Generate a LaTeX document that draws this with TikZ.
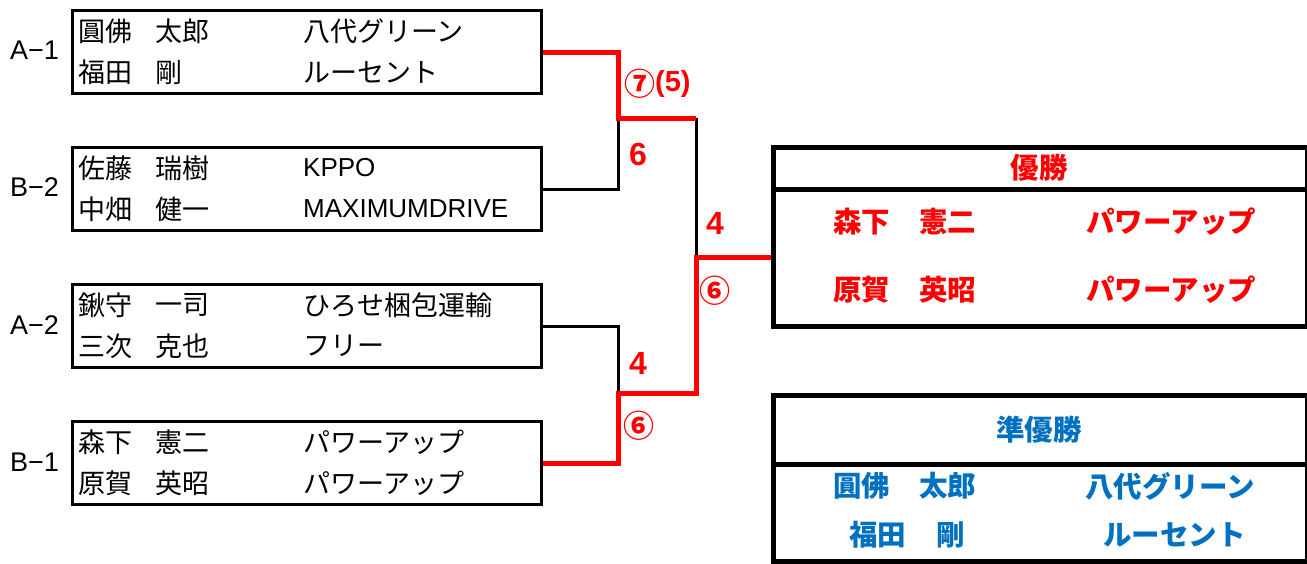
\documentclass[tikz,border=0pt]{standalone}
\usepackage{fontspec}
\setmainfont{Liberation Sans}
\newfontfamily\cjk{Noto Sans CJK JP}
\definecolor{winred}{RGB}{255,0,0}
\definecolor{runblue}{RGB}{0,112,192}
\begin{document}
\begin{tikzpicture}[x=1pt,y=-1pt,
  entry/.style={draw, line width=3pt, minimum width=469pt, minimum height=83pt, anchor=north west, inner sep=0pt},
  lt/.style={anchor=west, inner sep=0pt, font=\fontsize{27}{27}\selectfont\cjk},
  ll/.style={anchor=west, inner sep=0pt, font=\fontsize{26}{26}\selectfont},
  seed/.style={anchor=west, inner sep=0pt, font=\fontsize{27}{27}\selectfont},
  blk/.style={line width=3pt, black},
  rdl/.style={line width=5pt, winred},
  score/.style={anchor=west, inner sep=0pt, text=winred, font=\fontsize{32}{32}\selectfont\bfseries},
  cscore/.style={anchor=center, inner sep=0pt, text=winred, font=\fontsize{31}{31}\selectfont\cjk\bfseries},
  big/.style={draw, line width=5pt, minimum width=534pt, anchor=north west, inner sep=0pt},
  wt/.style={inner sep=0pt, text=winred, font=\fontsize{28.5}{28.5}\selectfont\cjk\bfseries},
  rt/.style={inner sep=0pt, text=runblue, font=\fontsize{28.5}{28.5}\selectfont\cjk\bfseries}]
\useasboundingbox (0,0) rectangle (1307,563);
% entry boxes
\node[entry] (a1) at (71,9) {};
\node[entry] (b2) at (71,146) {};
\node[entry] (a2) at (71,283) {};
\node[entry] (b1) at (71,420) {};
% seed labels
\node[seed] (la1) at (10,50) {A−1};
\node[seed] (lb2) at (10,187) {B−2};
\node[seed] (la2) at (10,325) {A−2};
\node[seed] (lb1) at (10,462) {B−1};
% A-1
\node[lt] (a1n1) at (78,31) {圓佛};
\node[lt] (a1g1) at (155,31) {太郎};
\node[lt] (a1t1) at (303,31) {八代グリーン};
\node[lt] (a1n2) at (78,72) {福田};
\node[lt] (a1g2) at (155,72) {剛};
\node[lt] (a1t2) at (303,72) {ルーセント};
% B-2
\node[lt] (b2n1) at (78,168) {佐藤};
\node[lt] (b2g1) at (155,168) {瑞樹};
\node[ll] (b2t1) at (303,168) {KPPO};
\node[lt] (b2n2) at (78,209) {中畑};
\node[lt] (b2g2) at (155,209) {健一};
\node[ll] (b2t2) at (303,209) {MAXIMUMDRIVE};
% A-2
\node[lt] (a2n1) at (78,305) {鍬守};
\node[lt] (a2g1) at (155,305) {一司};
\node[lt] (a2t1) at (303,305) {ひろせ梱包運輸};
\node[lt] (a2n2) at (78,346) {三次};
\node[lt] (a2g2) at (155,346) {克也};
\node[lt] (a2t2) at (303,346) {フリー};
% B-1
\node[lt] (b1n1) at (78,442) {森下};
\node[lt] (b1g1) at (155,442) {憲二};
\node[lt] (b1t1) at (303,442) {パワーアップ};
\node[lt] (b1n2) at (78,483) {原賀};
\node[lt] (b1g2) at (155,483) {英昭};
\node[lt] (b1t2) at (303,483) {パワーアップ};
% result boxes
\node[big, minimum height=42pt] (wh) at (771,145) {};
\node[big, minimum height=137pt] (wb) at (771,187) {};
\node[big, minimum height=69pt] (rh) at (771,393) {};
\node[big, minimum height=97pt] (rb) at (771,462) {};
\node[wt] (wtitle) at (1039,168) {優勝};
\node[wt, anchor=west] (w1n) at (833,222) {森下};
\node[wt, anchor=west] (w1g) at (919,222) {憲二};
\node[wt, anchor=west] (w1t) at (1086,222) {パワーアップ};
\node[wt, anchor=west] (w2n) at (833,290) {原賀};
\node[wt, anchor=west] (w2g) at (919,290) {英昭};
\node[wt, anchor=west] (w2t) at (1086,290) {パワーアップ};
\node[rt] (rtitle) at (1039,430) {準優勝};
\node[rt, anchor=west] (r1n) at (833,486) {圓佛};
\node[rt, anchor=west] (r1g) at (919,486) {太郎};
\node[rt, anchor=west] (r1t) at (1085,486) {八代グリーン};
\node[rt, anchor=west] (r2n) at (849,535) {福田};
\node[rt, anchor=west] (r2g) at (936,535) {剛};
\node[rt, anchor=west] (r2t) at (1103,535) {ルーセント};
% bracket
\coordinate (j1) at (618,118);
\coordinate (j2) at (618,393);
\coordinate (f) at (696,257);
\draw[blk] (b2.east) -| (j1);
\draw[blk] (j1 -| f) -- (f);
\draw[blk] (a2.east) -| (j2);
\draw[rdl] (a1.east) -| (j1) -- (j1 -| f);
\draw[rdl] (b1.east) -| (j2) -- (j2 -| f) -- (f) -- (f -| wb.west);
% scores
\node[cscore] (s1) at (640,84) {⑦};
\node[score, font=\fontsize{29}{29}\selectfont\bfseries] (s1b) at (655,84) {(5)};
\node[score] (s2) at (629,154) {6};
\node[score] (s3) at (706,223) {4};
\node[cscore] (s4) at (715,291) {⑥};
\node[score] (s5) at (629,363) {4};
\node[cscore] (s6) at (639,426) {⑥};
\end{tikzpicture}
\end{document}
